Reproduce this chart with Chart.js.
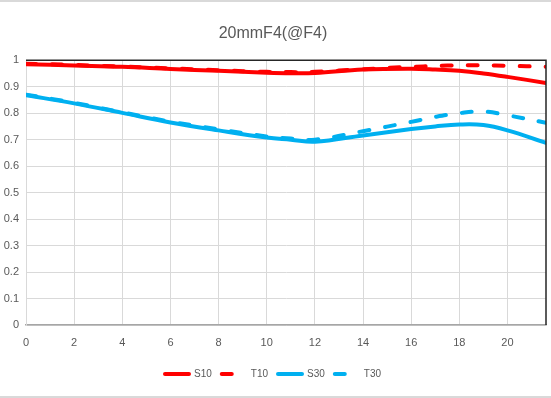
<!DOCTYPE html>
<html lang="en">
<head>
  <meta charset="UTF-8" />
  <script src="https://cdn.jsdelivr.net/npm/chart.js"></script>
  <style>
    html, body { margin: 0; padding: 0; background: #fff; }
    #wrap { width: 551px; height: 398px; }
  </style>
</head>
<body>
  <div id="wrap"><canvas id="mtfChart" width="551" height="398"></canvas></div>

  <script>
    // image height (mm) and MTF values
    const xValues = [0, 2, 4, 6, 8, 10, 11, 12, 14, 16, 17, 18, 19, 20, 21.6];
    const s10 = [0.985, 0.980, 0.975, 0.967, 0.960, 0.953, 0.951, 0.952, 0.965, 0.968, 0.965, 0.960, 0.950, 0.937, 0.914];
    const t10 = [0.987, 0.982, 0.976, 0.969, 0.962, 0.956, 0.955, 0.956, 0.966, 0.975, 0.978, 0.981, 0.981, 0.979, 0.975];
    const s30 = [0.868, 0.837, 0.801, 0.765, 0.735, 0.708, 0.700, 0.692, 0.716, 0.740, 0.750, 0.757, 0.755, 0.735, 0.688];
    const t30 = [0.870, 0.839, 0.803, 0.768, 0.739, 0.712, 0.704, 0.700, 0.732, 0.767, 0.786, 0.800, 0.806, 0.792, 0.764];
    const xTicks = [0, 2, 4, 6, 8, 10, 12, 14, 16, 18, 20];
    const yTicks = [0, 0.1, 0.2, 0.3, 0.4, 0.5, 0.6, 0.7, 0.8, 0.9, 1];

    const RED = '#ff0000';
    const BLUE = '#00b0f0';
    const toPoints = arr => arr.map((v, i) => ({ x: xValues[i], y: v }));

    function series(label, values, color, dashed) {
      return {
        label,
        data: toPoints(values),
        borderColor: color,
        backgroundColor: color,
        borderWidth: 4,
        borderCapStyle: 'round',
        borderJoinStyle: 'round',
        borderDash: dashed ? [10, 16] : [],
        pointRadius: 0,
        tension: 0.4,
        fill: false,
      };
    }

    // frame lines: top/right dark border of the plot, light outer rules
    const framePlugin = {
      id: 'frame',
      beforeDraw(chart) {
        const { ctx, width, height } = chart;
        ctx.save();
        ctx.fillStyle = '#fff';
        ctx.fillRect(0, 0, width, height);
        ctx.strokeStyle = '#d9d9d9';
        ctx.lineWidth = 2;
        ctx.beginPath();
        ctx.moveTo(0, 1); ctx.lineTo(width, 1);
        ctx.moveTo(0, height - 1); ctx.lineTo(width, height - 1);
        ctx.stroke();
        ctx.restore();
      },
      afterDraw(chart) {
        const { ctx, chartArea: a } = chart;
        ctx.save();
        ctx.strokeStyle = '#262626';
        ctx.lineWidth = 1.5;
        ctx.beginPath();
        ctx.moveTo(a.left, a.top);
        ctx.lineTo(a.right, a.top);
        ctx.lineTo(a.right, a.bottom);
        ctx.stroke();
        ctx.restore();
      },
    };

    const fontFamily = '"Liberation Sans", Arial, sans-serif';
    const tickFont = { family: fontFamily, size: 11 };

    new Chart(document.getElementById('mtfChart').getContext('2d'), {
      type: 'line',
      data: {
        datasets: [
          series('S10', s10, RED, false),
          series('T10', t10, RED, true),
          series('S30', s30, BLUE, false),
          series('T30', t30, BLUE, true),
        ],
      },
      options: {
        responsive: false,
        animation: false,
        layout: { padding: { left: 0, right: 5, top: 0, bottom: 9 } },
        scales: {
          x: {
            type: 'linear',
            min: 0,
            max: 21.6,
            afterBuildTicks: s => { s.ticks = xTicks.map(v => ({ value: v })); },
            afterFit: s => { s.height = 34; },
            ticks: { color: '#595959', font: tickFont, padding: 11, maxRotation: 0 },
            grid: { color: '#d9d9d9', drawTicks: false },
            border: { color: '#a6a6a6', width: 1.5 },
          },
          y: {
            min: 0,
            max: 1,
            afterBuildTicks: s => { s.ticks = yTicks.map(v => ({ value: v })); },
            afterFit: s => { s.width = 26; },
            ticks: {
              color: '#595959',
              font: tickFont,
              padding: 7,
              callback: v => String(Number(v.toFixed(1))),
            },
            grid: { color: '#d9d9d9', drawTicks: false },
            border: { color: '#d9d9d9' },
          },
        },
        plugins: {
          title: {
            display: true,
            text: '20mmF4(@F4)',
            color: '#595959',
            font: { family: fontFamily, size: 16, weight: 'normal' },
            padding: { top: 24, bottom: 17 },
          },
          legend: {
            position: 'bottom',
            labels: {
              color: '#595959',
              font: { family: fontFamily, size: 10 },
              usePointStyle: true,
              pointStyle: 'line',
              pointStyleWidth: 24,
              boxHeight: 10,
              padding: 10,
              generateLabels(chart) {
                return chart.data.datasets.map((ds, i) => ({
                  text: ds.label,
                  datasetIndex: i,
                  fillStyle: ds.borderColor,
                  strokeStyle: ds.borderColor,
                  fontColor: '#595959',
                  lineWidth: 4,
                  lineCap: 'round',
                  lineDash: ds.borderDash.length ? [10, 40] : [],
                  pointStyle: 'line',
                  hidden: false,
                }));
              },
            },
          },
          tooltip: { enabled: false },
        },
      },
      plugins: [framePlugin],
    });
  </script>
</body>
</html>
